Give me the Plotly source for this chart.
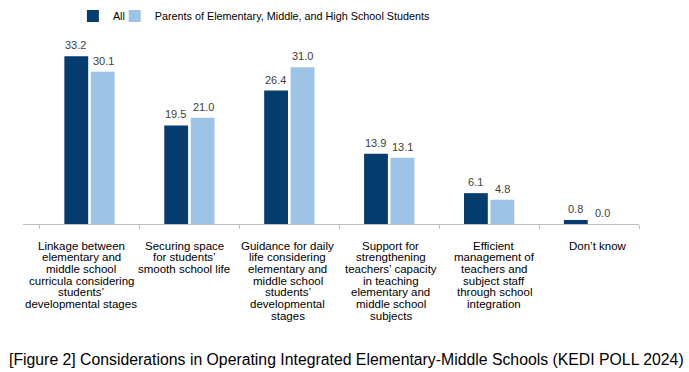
import plotly.graph_objects as go

categories = [
    "Linkage between<br>elementary and<br>middle school<br>curricula considering<br>students’<br>developmental stages",
    "Securing space<br>for students’<br>smooth school life",
    "Guidance for daily<br>life considering<br>elementary and<br>middle school<br>students’<br>developmental<br>stages",
    "Support for<br>strengthening<br>teachers’ capacity<br>in teaching<br>elementary and<br>middle school<br>subjects",
    "Efficient<br>management of<br>teachers and<br>subject staff<br>through school<br>integration",
    "Don’t know",
]
series_names = ["All", "Parents of Elementary, Middle, and High School Students"]
all_values = [33.2, 19.5, 26.4, 13.9, 6.1, 0.8]
parents_values = [30.1, 21.0, 31.0, 13.1, 4.8, 0.0]
caption = "[Figure 2] Considerations in Operating Integrated Elementary-Middle Schools (KEDI POLL 2024)"

FONT = "Liberation Sans, Arial, sans-serif"
DARK = "#053D6E"
LIGHT = "#9DC3E6"

keys = [f"c{i}" for i in range(len(categories))]

fig = go.Figure()
annotations = []
series = [(series_names[0], all_values, DARK, "legend", -13.6),
          (series_names[1], parents_values, LIGHT, "legend2", 13.6)]
for name, vals, col, leg, xs in series:
    fig.add_trace(go.Bar(
        x=keys, y=vals, name=name, legend=leg,
        marker=dict(color=col, line=dict(width=0)),
    ))
    for k, v in zip(keys, vals):
        annotations.append(dict(
            x=k, y=v, xref="x", yref="y", text=f"{v:.1f}", showarrow=False,
            xanchor="center", yanchor="middle", xshift=xs, yshift=11,
            font=dict(family=FONT, size=11, color="#404040"),
        ))

n = len(categories)
for ci, (k, cat) in enumerate(zip(keys, categories)):
    spread = (ci - (n - 1) / 2) * 3.4
    for i, line in enumerate(cat.split("<br>")):
        annotations.append(dict(
            x=k, y=0, xref="x", yref="y", text=line, showarrow=False,
            yanchor="middle", xanchor="center", xshift=spread, yshift=-(21.5 + i * 11.7),
            font=dict(family=FONT, size=11.5, color="#000000"),
        ))
annotations.append(dict(
    x=-0.026, y=-0.734, xref="paper", yref="paper", text=caption, showarrow=False,
    xanchor="left", yanchor="middle", font=dict(family=FONT, size=15.8, color="#000000"),
))

legfont = dict(family=FONT, size=10.8, color="#000000")
fig.update_layout(
    width=689, height=372,
    margin=dict(l=23, r=50, t=40, b=148, autoexpand=False),
    paper_bgcolor="white", plot_bgcolor="white",
    barmode="group", bargap=0.47, bargroupgap=0.1,
    font=dict(family=FONT, size=12, color="#000000"),
    showlegend=True,
    legend=dict(orientation="h", x=0.081, xanchor="left", y=1.13, yanchor="middle",
                font=legfont, bgcolor="rgba(0,0,0,0)"),
    legend2=dict(orientation="h", x=0.1489, xanchor="left", y=1.13, yanchor="middle",
                 font=legfont, bgcolor="rgba(0,0,0,0)"),
    annotations=annotations,
)
fig.update_xaxes(showticklabels=False, showline=True, linecolor="#BFBFBF", linewidth=1,
                 ticks="outside", tickson="boundaries", ticklen=4, tickcolor="#BFBFBF",
                 showgrid=False, automargin=False)
fig.update_yaxes(range=[0, 36.4], visible=False, showgrid=False, zeroline=False, automargin=False)

fig.write_html("out.html", config={"displayModeBar": False},
               post_script="document.body.style.margin='0';")
